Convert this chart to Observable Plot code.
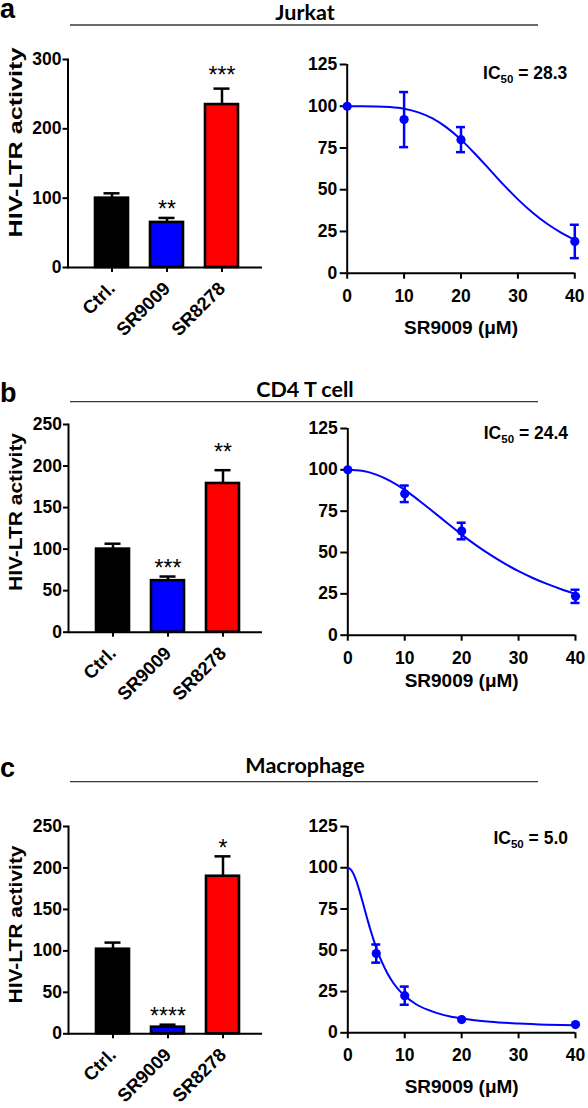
<!DOCTYPE html>
<html><head><meta charset="utf-8">
<script src="https://cdn.jsdelivr.net/npm/d3@7"></script>
<script src="https://cdn.jsdelivr.net/npm/@observablehq/plot@0.6"></script>
<style>
html,body{margin:0;padding:0;background:#fff;}
#page{position:relative;width:588px;height:1108px;overflow:hidden;background:#fff;}
#page svg{position:absolute;}
</style></head><body><div id="page"></div>
<script>
// ---------- data ----------
const categories = ["Ctrl.", "SR9009", "SR8278"];

const jurkatBar = [100, 65, 235];
const jurkatBarSem = [7, 6.5, 23];
const jurkatStars = ["", "**", "***"];
const jurkatStarLevel = [null, 92, 286];

const cd4Bar = [100, 62, 179];
const cd4BarSem = [6.5, 5, 16];
const cd4Stars = ["", "***", "**"];
const cd4StarLevel = [null, 84, 223];

const macroBar = [102, 8, 190];
const macroBarSem = [8, 3, 24];
const macroStars = ["", "****", "*"];
const macroStarLevel = [null, 28, 230];

const jurkatDoseX = [0, 10, 20, 40];
const jurkatDoseY = [100, 92, 80, 19];
const jurkatDoseSem = [0, 16.5, 7.5, 10];
const jurkatFitX = [0, 2.5, 5, 7.5, 10, 12.5, 15, 17.5, 20, 22.5, 25, 27.5, 30, 32.5, 35, 37.5, 40];
const jurkatFitY = [100, 100, 99.9, 99.5, 98.5, 96.3, 92.7, 87.2, 80.0, 71.4, 62.2, 52.9, 44.2, 36.5, 29.9, 24.5, 20.0];
const jurkatIC50 = "28.3";

const cd4DoseX = [0, 10, 20, 40];
const cd4DoseY = [100, 85.5, 63, 23.5];
const cd4DoseSem = [0, 5, 5, 4];
const cd4FitX = [0, 2.5, 5, 7.5, 10, 12.5, 15, 17.5, 20, 22.5, 25, 27.5, 30, 32.5, 35, 37.5, 40];
const cd4FitY = [100, 99.4, 97.1, 93.2, 87.9, 81.5, 74.7, 67.7, 60.8, 54.5, 48.7, 43.4, 38.7, 34.6, 31.0, 27.8, 25.0];
const cd4IC50 = "24.4";

const macroDoseX = [5, 10, 20, 40];
const macroDoseY = [48, 22.5, 8, 5];
const macroDoseSem = [5.5, 5.5, 0, 0];
const macroFitX = [0, 0.5, 1, 1.5, 2, 2.5, 3, 3.5, 4, 4.5, 5, 6, 7, 8, 9, 10, 12, 14, 16, 18, 20, 25, 30, 35, 40];
const macroFitY = [100, 99.0, 96.3, 92.0, 86.6, 80.6, 74.3, 68.1, 62.1, 56.6, 51.5, 42.8, 35.8, 30.2, 25.9, 22.4, 17.3, 14.0, 11.6, 9.9, 8.7, 6.7, 5.6, 4.9, 4.5];
const macroIC50 = "5.0";

const barTicks250 = [0, 50, 100, 150, 200, 250];
const barTicks300 = [0, 100, 200, 300];
const doseYTicks = [0, 25, 50, 75, 100, 125];
const doseXTicks = [0, 10, 20, 30, 40];
const yLabelText = "HIV-LTR activity";
const xLabelText = "SR9009 (μM)";

// ---------- styles ----------
const BLUE = "#0000ff";
const barColors = ["#000000", "#0000ff", "#ff0000"];
const FONT = "'Liberation Sans', Arial, Helvetica, sans-serif";
const page = document.getElementById("page");

// header (panel letters, titles, rules)
const headers = [
  {letter: "a", letterY: 18, title: "Jurkat", titleY: 19.5, lineY: 25},
  {letter: "b", letterY: 401.5, title: "CD4 T cell", titleY: 396.5, lineY: 401.7},
  {letter: "c", letterY: 777, title: "Macrophage", titleY: 773.3, lineY: 781.7}
];
const hdr = d3.create("svg").attr("width", 588).attr("height", 1108)
  .style("left", "0px").style("top", "0px");
for (const h of headers) {
  hdr.append("text").attr("x", 0).attr("y", h.letterY).text(h.letter)
    .attr("font-family", FONT).attr("font-weight", "bold").attr("font-size", 27);
  hdr.append("text").attr("x", 305).attr("y", h.titleY).text(h.title)
    .attr("text-anchor", "middle").attr("font-family", "Lato, 'Open Sans', sans-serif")
    .attr("font-weight", "bold").attr("font-size", 21.5);
  hdr.append("line").attr("x1", 70).attr("x2", 538).attr("y1", h.lineY).attr("y2", h.lineY)
    .attr("stroke", "#3a3a3a").attr("stroke-width", 1.3);
}
page.appendChild(hdr.node());

function place(svg, left, top) {
  svg.style.left = left + "px";
  svg.style.top = top + "px";
  page.appendChild(svg);
}

function barPanel(cfg) {
  const rows = categories.map((c, i) => ({cat: c, value: cfg.values[i], top: cfg.values[i] + cfg.sems[i], star: cfg.stars[i], starY: cfg.starLevel[i]}));
  const mt = 30, mb = 78, width = 275;
  const plotH = cfg.y0 - cfg.yTop;
  const height = mt + plotH + mb;
  const svg = Plot.plot({
    width, height,
    marginTop: mt, marginBottom: mb, marginLeft: cfg.left, marginRight: width - cfg.right,
    style: {fontFamily: FONT, fontSize: "17.5px", fontWeight: "bold", color: "#000", background: "transparent", overflow: "visible"},
    x: {domain: categories, paddingInner: 0.393, paddingOuter: 0.4375, align: 0.546, axis: null},
    y: {domain: [0, cfg.yMax], axis: null},
    color: {domain: categories, range: barColors},
    marks: [
      Plot.barY(rows, {x: "cat", y: "value", fill: "cat", stroke: "#000", strokeWidth: 2.6}),
      Plot.ruleX(rows, {x: "cat", y1: "value", y2: "top", stroke: "#000", strokeWidth: 2.5}),
      Plot.tickY(rows, {x: "cat", y: "top", stroke: "#000", strokeWidth: 2.5, insetLeft: 8.5, insetRight: 8.5}),
      Plot.ruleY([0], {stroke: "#000", strokeWidth: 2}),
      Plot.frame({anchor: "left", stroke: "#000", strokeWidth: 2}),
      Plot.axisY({ticks: cfg.ticks, tickSize: 5, tickPadding: 1.5, strokeWidth: 2, label: null}),
      Plot.axisX({tickRotate: -45, tickSize: 5, tickPadding: 13, strokeWidth: 2, label: null, fontSize: 18.5}),
      Plot.text(rows.filter(d => d.star), {x: "cat", y: "starY", text: "star", fontSize: 23, fontWeight: "normal", lineAnchor: "middle", dy: 6}),
      Plot.text([yLabelText], {text: d => d, frameAnchor: "left", textAnchor: "middle", lineAnchor: "middle", rotate: -90,
        dx: 16 - cfg.left, dy: cfg.labelCY - (cfg.yTop + cfg.y0) / 2, fontSize: 18})
    ]
  });
  d3.select(svg).selectAll("text").filter(function() { return this.textContent === yLabelText; })
    .attr("textLength", cfg.labelLen).attr("lengthAdjust", "spacingAndGlyphs");
  place(svg, 0, cfg.yTop - mt);
}

function dosePanel(cfg) {
  const pts = cfg.dx.map((x, i) => ({x, y: cfg.dy[i], lo: cfg.dy[i] - cfg.ds[i], hi: cfg.dy[i] + cfg.ds[i], sem: cfg.ds[i]}));
  const errs = pts.filter(d => d.sem > 0);
  const fit = cfg.fx.map((x, i) => ({x, y: cfg.fy[i]}));
  const mt = 34, mb = 72, width = 298;
  const plotH = cfg.y0 - cfg.yTop;
  const height = mt + plotH + mb;
  const icText = "IC50 = " + cfg.ic;
  const svg = Plot.plot({
    width, height,
    marginTop: mt, marginBottom: mb, marginLeft: cfg.x0 - 290, marginRight: 588 - cfg.x40,
    style: {fontFamily: FONT, fontSize: "17.5px", fontWeight: "bold", color: "#000", background: "transparent", overflow: "visible"},
    x: {domain: [0, 40], axis: null},
    y: {domain: [0, 125], axis: null},
    marks: [
      Plot.ruleX([0], {stroke: "#000", strokeWidth: 2}),
      Plot.ruleY([0], {stroke: "#000", strokeWidth: 2}),
      Plot.axisY({ticks: doseYTicks, tickSize: 7, tickPadding: 3, strokeWidth: 2, label: null}),
      Plot.axisX({ticks: doseXTicks, tickSize: 6, tickPadding: 10, strokeWidth: 2, label: null}),
      Plot.line(fit, {x: "x", y: "y", stroke: BLUE, strokeWidth: 2, curve: "monotone-x"}),
      Plot.ruleX(errs, {x: "x", y1: "lo", y2: "hi", stroke: BLUE, strokeWidth: 2.5}),
      Plot.ruleY(errs, {x1: "x", x2: "x", y: "hi", stroke: BLUE, strokeWidth: 2.5, insetLeft: -4.5, insetRight: -4.5}),
      Plot.ruleY(errs, {x1: "x", x2: "x", y: "lo", stroke: BLUE, strokeWidth: 2.5, insetLeft: -4.5, insetRight: -4.5}),
      Plot.dot(pts, {x: "x", y: "y", r: 4.6, fill: BLUE, stroke: null}),
      Plot.text([xLabelText], {text: d => d, frameAnchor: "bottom", textAnchor: "middle", lineAnchor: "middle", dy: cfg.xLabelDy, fontSize: 19}),
      Plot.text([icText], {text: d => d, frameAnchor: "top-right", textAnchor: "end", lineAnchor: "middle", dx: -7.5, dy: cfg.icDy, fontSize: 17.5})
    ]
  });
  d3.select(svg).selectAll("text").filter(function() { return this.textContent === icText; })
    .each(function() {
      const t = d3.select(this);
      t.text(null);
      t.append("tspan").text("IC");
      t.append("tspan").text("50").attr("font-size", 11.5).attr("dy", 4);
      t.append("tspan").text(" = " + cfg.ic).attr("dy", -4);
    });
  place(svg, 290, cfg.yTop - mt);
}

barPanel({values: jurkatBar, sems: jurkatBarSem, stars: jurkatStars, starLevel: jurkatStarLevel, yMax: 300, ticks: barTicks300,
  left: 67.5, right: 262, yTop: 59, y0: 267, labelCY: 142, labelLen: 190});
dosePanel({dx: jurkatDoseX, dy: jurkatDoseY, ds: jurkatDoseSem, fx: jurkatFitX, fy: jurkatFitY, ic: jurkatIC50,
  x0: 346.7, x40: 574.3, yTop: 64, y0: 272.7, xLabelDy: 55, icDy: 9});

barPanel({values: cd4Bar, sems: cd4BarSem, stars: cd4Stars, starLevel: cd4StarLevel, yMax: 250, ticks: barTicks250,
  left: 68, right: 262, yTop: 424, y0: 631.7, labelCY: 511.5, labelLen: 158});
dosePanel({dx: cd4DoseX, dy: cd4DoseY, ds: cd4DoseSem, fx: cd4FitX, fy: cd4FitY, ic: cd4IC50,
  x0: 347.3, x40: 575, yTop: 428.3, y0: 635, xLabelDy: 46, icDy: 5});

barPanel({values: macroBar, sems: macroBarSem, stars: macroStars, starLevel: macroStarLevel, yMax: 250, ticks: barTicks250,
  left: 68, right: 262, yTop: 826, y0: 1033.3, labelCY: 924, labelLen: 158});
dosePanel({dx: macroDoseX, dy: macroDoseY, ds: macroDoseSem, fx: macroFitX, fy: macroFitY, ic: macroIC50,
  x0: 347.3, x40: 575, yTop: 826, y0: 1032.3, xLabelDy: 54, icDy: 12});
</script></body></html>
